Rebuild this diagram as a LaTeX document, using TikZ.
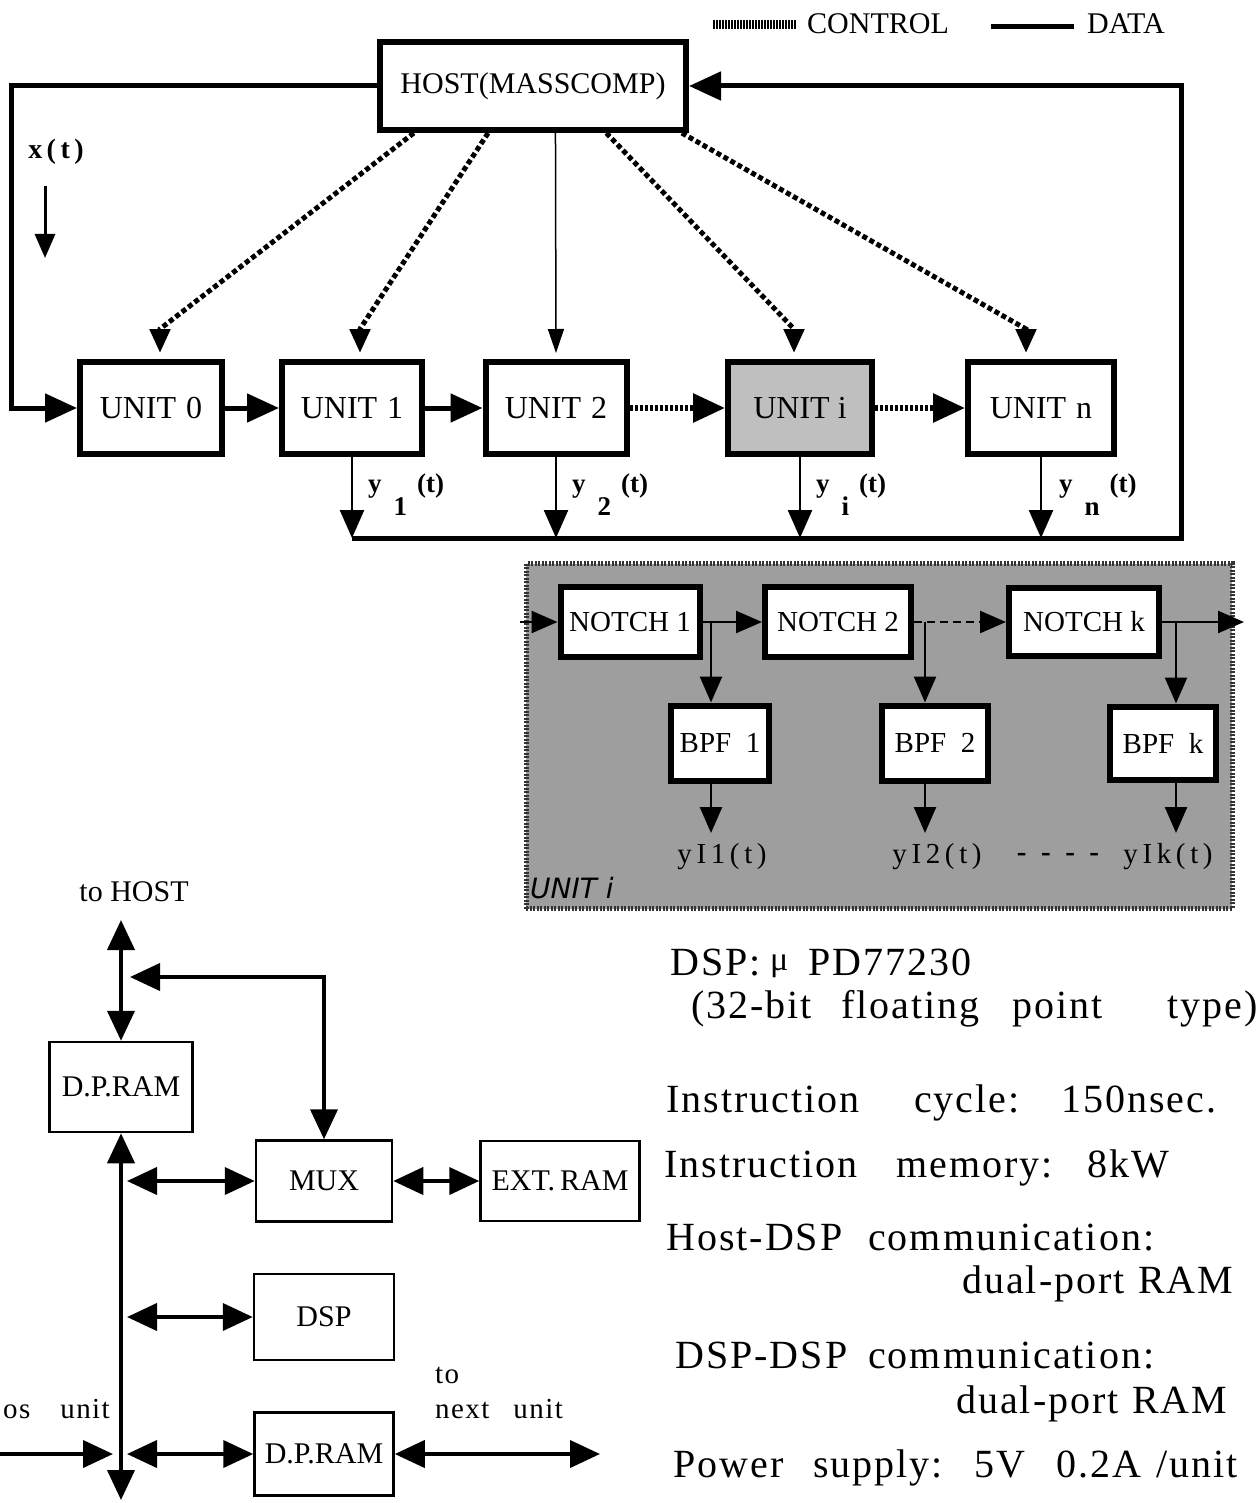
\documentclass[tikz,border=0pt]{standalone}
\usepackage{fontspec}
\setmainfont{Liberation Serif}
\newfontfamily\specfont[LetterSpace=5]{Liberation Serif}
\newfontfamily\wideletters[LetterSpace=16]{Liberation Serif}
\newfontfamily\handfont{DejaVu Sans}
\usetikzlibrary{arrows.meta,calc}

%% word boxes for the spaced-out spec lines
\newcommand{\wbox}[2]{\makebox[#1pt][l]{#2}}
%% output label y_k (t)
\newcommand{\yout}[1]{y\hspace{12pt}\raisebox{-23pt}{#1}\hspace{10pt}(t)}

\tikzset{
  unitbox/.style={draw, line width=6pt, inner sep=0pt, minimum height=92pt, font=\fontsize{32}{34}\selectfont},
  filtbox/.style={draw, fill=white, line width=6pt, inner sep=0pt, font=\fontsize{29}{30}\selectfont},
  rambox/.style={draw, line width=2.5pt, inner sep=0pt, font=\fontsize{30}{32}\selectfont},
  dataline/.style={line width=5pt, -{Triangle[length=32pt,width=28pt]}},
  ctrlline/.style={line width=5pt, dash pattern=on 5pt off 3pt, shorten >=6pt, -{Triangle[length=24pt,width=20pt]}},
  chainline/.style={line width=6pt, dash pattern=on 3pt off 2pt, -{Triangle[length=32pt,width=28pt]}},
  yline/.style={line width=2.5pt, -{Triangle[length=28pt,width=24pt]}},
  sigline/.style={line width=2.5pt, -{Triangle[length=26pt,width=22pt]}},
  busline/.style={line width=4pt, {Triangle[length=30pt,width=27pt]}-{Triangle[length=30pt,width=27pt]}},
  lbl/.style={inner sep=0pt, font=\fontsize{30}{32}\selectfont},
  ylbl/.style={inner sep=0pt, anchor=base west, font=\bfseries\fontsize{27}{28}\selectfont},
  sublbl/.style={inner sep=0pt, font=\wideletters\fontsize{29}{30}\selectfont},
  smalllbl/.style={inner sep=0pt, font=\specfont\fontsize{29}{30}\selectfont},
  spec/.style={inner sep=0pt, anchor=base west, font=\specfont\fontsize{40}{44}\selectfont},
}

\begin{document}
\begin{tikzpicture}[x=1pt,y=-1pt]
\useasboundingbox (0,0) rectangle (1258,1503);

%% legend
\coordinate (ctla) at (713,25);
\coordinate (ctlb) at (796,25);
\draw[line width=9pt, dash pattern=on 1.6pt off 1.4pt] (ctla) -- (ctlb);
\node[lbl, anchor=west] (ctltxt) at (807,24) {CONTROL};
\coordinate (dtaa) at (991,27);
\coordinate (dtab) at (1074,27);
\draw[line width=5pt] (dtaa) -- (dtab);
\node[lbl, anchor=west] (datatxt) at (1087,24) {DATA};

%% host and the chain of units
\node[unitbox, minimum width=306pt, minimum height=88pt, font=\fontsize{30}{32}\selectfont] (host) at (533,86) {HOST(MASSCOMP)};
\node[unitbox, minimum width=142pt] (u0) at (151,408) {UNIT\hspace{10pt}0};
\node[unitbox, minimum width=140pt] (u1) at (352,408) {UNIT\hspace{10pt}1};
\node[unitbox, minimum width=141pt] (u2) at (556,408) {UNIT\hspace{10pt}2};
\node[unitbox, minimum width=144pt, fill=black!25] (ui) at (800,408) {UNIT i};
\node[unitbox, minimum width=146pt] (un) at (1041,408) {UNIT\hspace{10pt}n};

\draw[dataline] (u0) -- (u1);
\draw[dataline] (u1) -- (u2);
\draw[chainline] (u2) -- (ui);
\draw[chainline] (ui) -- (un);

%% x(t) in, outputs back to host
\coordinate (lft) at (11,86);
\draw[dataline] (host.west) -- (lft) |- (u0.west);
\coordinate (busl) at (352,538);
\coordinate (busr) at (1181,538);
\draw[dataline] (busl) -- (busr) |- (host.east);

\node[lbl, font=\wideletters\bfseries\fontsize{28}{30}\selectfont] (xlab) at (56,152) {x(t)};
\coordinate (xtop) at (45,186);
\coordinate (xbot) at (45,258);
\draw[line width=3pt, -{Triangle[length=24pt,width=20pt]}] (xtop) -- (xbot);

\foreach \u in {u1,u2,ui,un}
  \draw[yline] (\u.south) -- (\u.south |- busl);
\node[ylbl] (ylab1) at ($(u1.south |- busl)+(16,-46)$) {\yout{1}};
\node[ylbl] (ylab2) at ($(u2.south |- busl)+(16,-46)$) {\yout{2}};
\node[ylbl] (ylabi) at ($(ui.south |- busl)+(16,-46)$) {\yout{i}};
\node[ylbl] (ylabn) at ($(un.south |- busl)+(18,-46)$) {\yout{n}};

%% control lines from the host
\draw[ctrlline] ($(host.south west)!0.118!(host.south east)$) -- ($(u0.north)+(9,-30)$) -- ($(u0.north)+(9,0)$);
\draw[ctrlline] ($(host.south west)!0.356!(host.south east)$) -- ($(u1.north)+(8,-30)$) -- ($(u1.north)+(8,0)$);
\draw[line width=1.5pt, shorten >=6pt, -{Triangle[length=24pt,width=16pt]}] ($(host.south west)!0.572!(host.south east)$) -- (u2.north);
\draw[ctrlline] ($(host.south west)!0.735!(host.south east)$) -- ($(ui.north)+(-6,-30)$) -- ($(ui.north)+(-6,0)$);
\draw[ctrlline] ($(host.south west)!0.977!(host.south east)$) -- ($(un.north)+(-15,-30)$) -- ($(un.north)+(-15,0)$);

%% inside of unit i
\node[draw=black!80, fill=black!38, line width=5pt, dash pattern=on 2pt off 1.5pt, minimum width=706pt, minimum height=345pt, inner sep=0pt] (detail) at (879,736) {};
\node[filtbox, minimum width=139pt, minimum height=70pt] (n1) at (630,622) {NOTCH 1};
\node[filtbox, minimum width=146pt, minimum height=70pt] (n2) at (838,622) {NOTCH 2};
\node[filtbox, minimum width=150pt, minimum height=68pt] (nk) at (1084,622) {NOTCH k};
\node[filtbox, minimum width=98pt, minimum height=75pt] (b1) at (720,743) {BPF\ \ 1};
\node[filtbox, minimum width=106pt, minimum height=75pt] (b2) at (935,743) {BPF\ \ 2};
\node[filtbox, minimum width=106pt, minimum height=73pt] (bk) at (1163,743) {BPF\ \ k};

\coordinate (din) at (520,622);
\coordinate (dout) at (1244,622);
\draw[sigline] (din) -- (n1.west);
\draw[sigline] (n1.east) -- (n2.west);
\draw[sigline, dash pattern=on 8pt off 5pt] (n2.east) -- (nk.west);
\draw[sigline] (nk.east) -- (dout);

\coordinate (br1) at (711,622);
\coordinate (br2) at (925,622);
\coordinate (brk) at (1176,622);
\coordinate (o1) at (711,833);
\coordinate (o2) at (925,833);
\coordinate (ok) at (1176,833);
\draw[sigline] (br1) -- (br1 |- b1.north);
\draw[sigline] (br2) -- (br2 |- b2.north);
\draw[sigline] (brk) -- (brk |- bk.north);
\draw[sigline] (br1 |- b1.south) -- (o1);
\draw[sigline] (br2 |- b2.south) -- (o2);
\draw[sigline] (brk |- bk.south) -- (ok);

\node[sublbl] (yI1) at (722,857) {yI1(t)};
\node[sublbl] (yI2) at (937,857) {yI2(t)};
\node[sublbl, font=\bfseries\fontsize{29}{30}\selectfont] (ydots) at (1058,857) {-\ \ -\ \ -\ \ -};
\node[sublbl] (yIk) at (1168,857) {yIk(t)};
\node[inner sep=0pt, anchor=west, font=\handfont\itshape\fontsize{28}{30}\selectfont] (unitilab) at (530,888) {UNIT i};

%% hardware of one unit
\node[lbl] (tohost) at (134,892) {to HOST};
\coordinate (hosttip) at (121,920);
\node[rambox, minimum width=143pt, minimum height=90pt] (dp1) at (121,1087) {D.P.RAM};
\node[rambox, minimum width=136pt, minimum height=81pt] (mux) at (324,1181) {MUX};
\node[rambox, minimum width=159pt, minimum height=80pt] (ext) at (560,1181) {EXT.\,RAM};
\node[rambox, minimum width=140pt, minimum height=86pt] (dsp) at (324,1317) {DSP};
\node[rambox, minimum width=139pt, minimum height=83pt] (dp2) at (324,1454) {D.P.RAM};

\draw[busline] (hosttip) -- (dp1.north);
\coordinate (busbot) at (121,1500);
\draw[busline] (dp1.south) -- (busbot);
\coordinate (hmux) at (130,977);
\draw[busline] (hmux) -| (mux.north);
\coordinate (bmux) at (127,1181);
\coordinate (bdsp) at (127,1317);
\coordinate (bdp) at (127,1454);
\draw[busline] (bmux) -- (mux.west);
\draw[busline] (bdsp) -- (dsp.west);
\draw[busline] (bdp) -- (dp2.west);
\draw[busline] (mux.east) -- (ext.west);

\coordinate (prevend) at (0,1454);
\coordinate (prevtip) at (113,1454);
\draw[line width=4pt, -{Triangle[length=30pt,width=27pt]}] (prevend) -- (prevtip);
\coordinate (nextend) at (600,1454);
\draw[busline] (dp2.east) -- (nextend);

\node[smalllbl, anchor=base east] (prevlab) at (110,1418) {os\hspace{30pt}unit};
\node[smalllbl, anchor=base west] (tolab) at (435,1383) {to};
\node[smalllbl, anchor=base west] (nextlab) at (435,1418) {next\hspace{24pt}unit};

%% spec text
\node[spec] (spec1) at (670,975) {\wbox{100}{DSP:}\wbox{38}{\raisebox{5pt}{\fontsize{34}{36}\selectfont μ}}PD77230};
\node[spec] (spec2) at (691,1018) {\wbox{150}{(32-bit}\wbox{171}{floating}\wbox{155}{point}type)};
\node[spec] (spec3) at (666,1112) {\wbox{248}{Instruction}\wbox{147}{cycle:}150nsec.};
\node[spec] (spec4) at (664,1177) {\wbox{232}{Instruction}\wbox{191}{memory:}8kW};
\node[spec] (spec5) at (666,1250) {\wbox{202}{Host-DSP}communication:};
\node[spec] (spec6) at (962,1293) {\wbox{176}{dual-port}RAM};
\node[spec] (spec7) at (675,1368) {\wbox{193}{DSP-DSP}communication:};
\node[spec] (spec8) at (956,1413) {\wbox{176}{dual-port}RAM};
\node[spec] (spec9) at (673,1477) {\wbox{140}{Power}\wbox{161}{supply:}\wbox{82}{5V}\wbox{100}{0.2A}/unit};

\end{tikzpicture}
\end{document}
